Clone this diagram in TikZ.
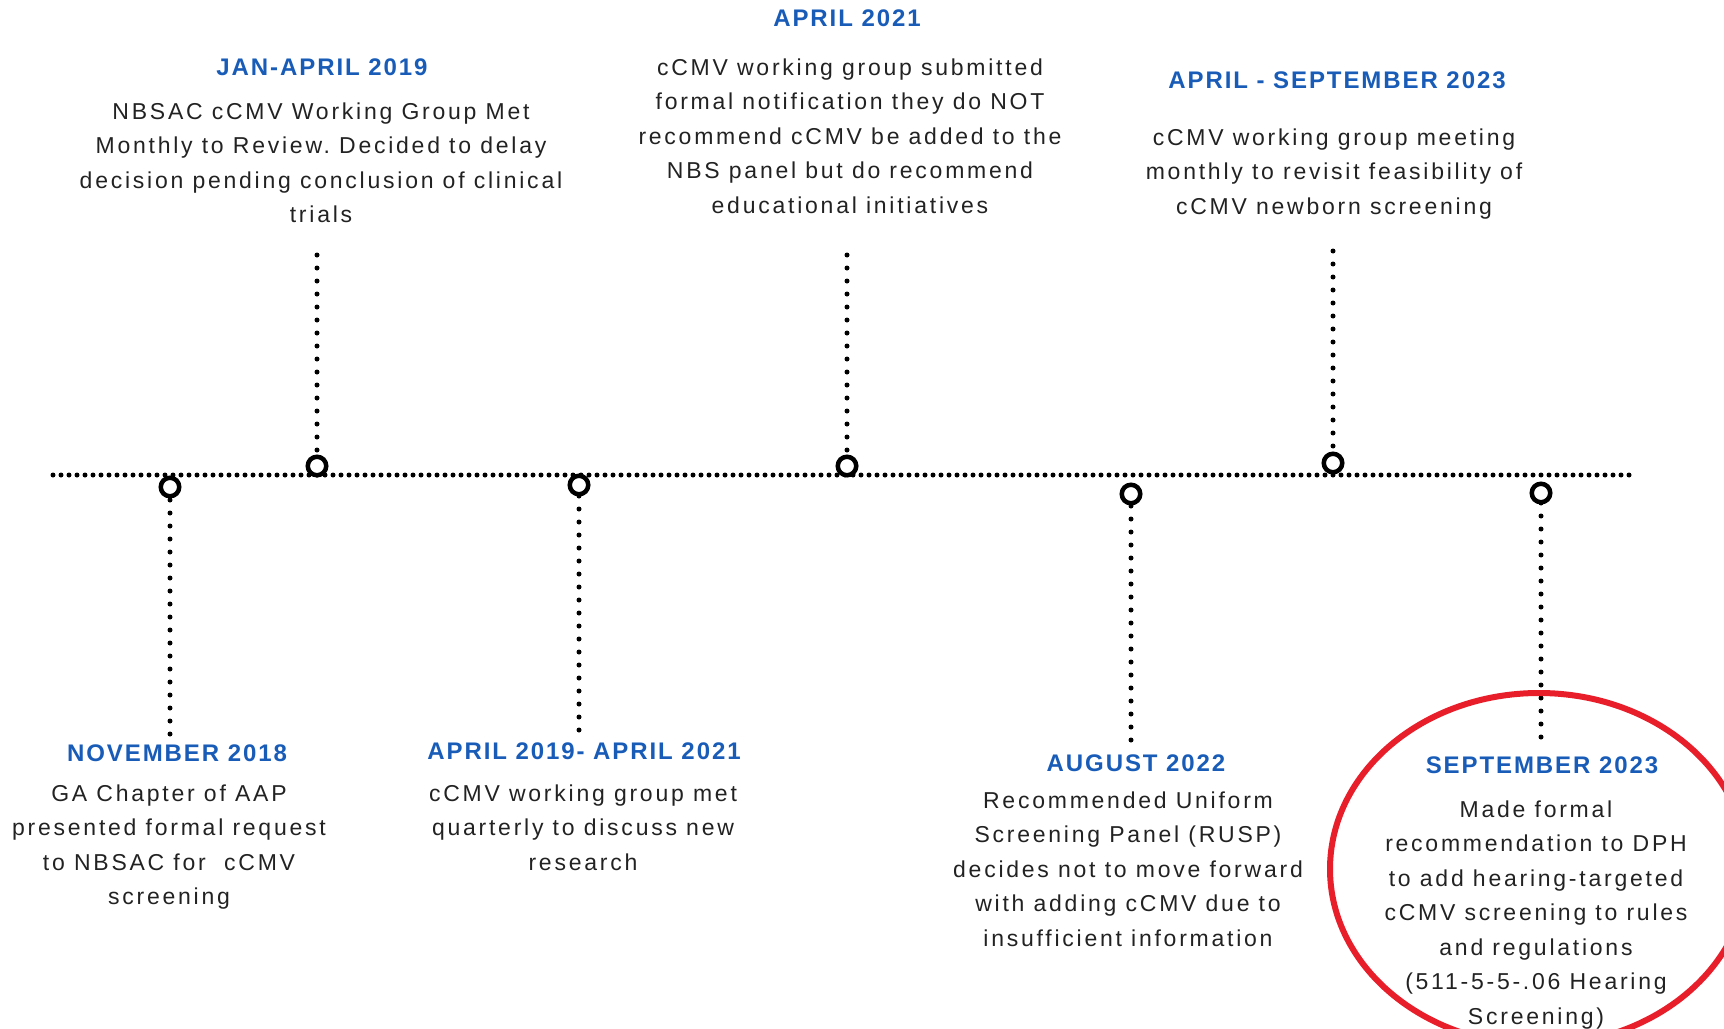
\documentclass[tikz,border=0pt]{standalone}
\usepackage{fontspec}
\usepackage{tikz}
\newfontfamily\tlbodyfont[LetterSpace=12]{Liberation Sans}
\newfontfamily\tltitlefont[LetterSpace=8]{Liberation Sans}
\definecolor{tlblue}{RGB}{24,92,184}
\definecolor{tlgray}{RGB}{34,34,34}
\definecolor{tlred}{RGB}{232,30,42}
\tikzstyle{hdots} = [line width=5pt,line cap=round,dash pattern=on 0pt off 8pt]
\tikzstyle{vdots} = [line width=5pt,line cap=round,dash pattern=on 0pt off 13pt]
\tikzstyle{ring} = [circle,draw,line width=4.5pt,fill=white,minimum size=18.5pt,inner sep=0pt]
\tikzstyle{datetitle} = [font=\tltitlefont\bfseries\fontsize{24}{28}\selectfont,text=tlblue,inner sep=0pt]
\tikzstyle{eventtext} = [font=\tlbodyfont\fontsize{23}{34.5}\selectfont,text=tlgray,align=center,inner sep=0pt,anchor=north]
\frenchspacing

\begin{document}
\begin{tikzpicture}[x=1pt,y=-1pt]
\useasboundingbox (0,0) rectangle (1724,1028);
\clip (0,0) rectangle (1724,1028);

% time line
\coordinate (lstart) at (53,475);
\coordinate (lend) at (1632,475);
\draw[hdots] (lstart) -- (lend);

\foreach \n/\x/\y/\e in {nov/170/487/734, jan/317/466/255, apr19/579/485/730,
  apr21/847/466/255, aug/1131/494/740, aprsep/1333/463/251, sep/1541/493/737}
{
\coordinate (\n) at (\x,\y);
\coordinate (\n end) at (\x,\e);
\draw[vdots] (\n end) -- (\n);
}

\foreach \n in {nov,jan,apr19,apr21,aug,aprsep,sep}
{
\node[ring] (\n ring) at (\n) {};
}

% above the line
\node[datetitle] (jantitle) at (322,67) {JAN-APRIL 2019};
\node[eventtext] (jantext) at (321,95) {\strut NBSAC cCMV Working Group Met\\Monthly to Review. Decided to delay\\decision pending conclusion of clinical\\trials};

\node[datetitle] (apr21title) at (847,18) {APRIL 2021};
\node[eventtext] (apr21text) at (850,51) {\strut cCMV working group submitted\\formal notification they do NOT\\recommend cCMV be added to the\\NBS panel but do recommend\\educational initiatives};

\node[datetitle] (aprseptitle) at (1337,80) {APRIL - SEPTEMBER 2023};
\node[eventtext] (apreptext) at (1334,121) {\strut cCMV working group meeting\\monthly to revisit feasibility of\\cCMV newborn screening};

% below the line
\node[datetitle] (novtitle) at (177,753) {NOVEMBER 2018};
\node[eventtext] (novtext) at (169,777) {\strut GA Chapter of AAP\\presented formal request\\to NBSAC for\ \ cCMV\\screening};

\node[datetitle] (apr19title) at (584,751) {APRIL 2019- APRIL 2021};
\node[eventtext] (apr19text) at (583,777) {\strut cCMV working group met\\quarterly to discuss new\\research};

\node[datetitle] (augtitle) at (1136,763) {AUGUST 2022};
\node[eventtext] (augtext) at (1128,784) {\strut Recommended Uniform\\Screening Panel (RUSP)\\decides not to move forward\\with adding cCMV due to\\insufficient information};

\node[datetitle] (septitle) at (1542,765) {SEPTEMBER 2023};
\node[eventtext] (septext) at (1536,793) {\strut Made formal\\recommendation to DPH\\to add hearing-targeted\\cCMV screening to rules\\and regulations\\(511-5-5-.06 Hearing\\Screening)};

% highlight
\coordinate (hlcenter) at (1539,869);
\draw[tlred,line width=6pt] (hlcenter) ellipse [x radius=209pt,y radius=176pt];
\end{tikzpicture}
\end{document}
